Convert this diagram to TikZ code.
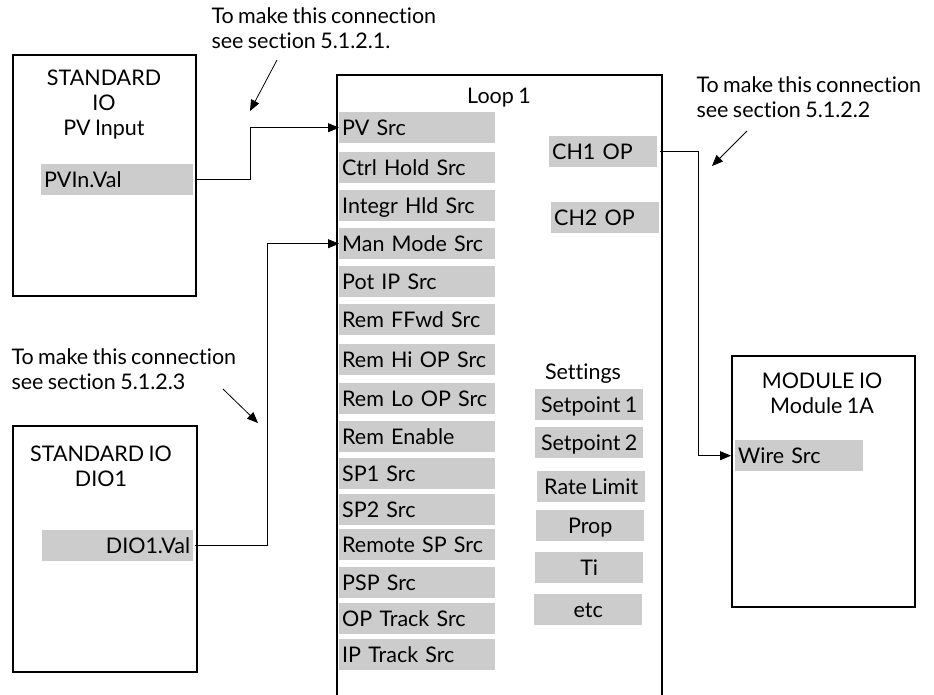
\documentclass[tikz,border=0pt]{standalone}
\usepackage{fontspec}
\setmainfont{Lato}[Ligatures=NoCommon, WordSpace=0.8]
\usetikzlibrary{arrows.meta}

\definecolor{barfill}{HTML}{CCCCCC}

\tikzset{
  blockbox/.style={draw, line width=1.6pt, anchor=north west, inner sep=0pt},
  srcbar/.style={fill=barfill, anchor=north west, inner xsep=3pt, inner ysep=0pt,
    minimum height=31pt, text height=15pt, text depth=0pt, align=left},
  setbar/.style={fill=barfill, anchor=north west, inner sep=0pt,
    minimum width=108pt, minimum height=31pt, text height=15pt, text depth=0pt},
  title/.style={align=center, anchor=base},
  note/.style={align=left, anchor=base west},
  wire/.style={line width=0.8pt},
}

\begin{document}
\begin{tikzpicture}[x=1pt, y=-1pt, >={Triangle[length=11pt,width=9pt]},
  font=\fontsize{21.5}{25}\selectfont]
\useasboundingbox (0,0) rectangle (934,695);

% standard IO, PV input
\node[blockbox, minimum width=183pt, minimum height=241pt] (pvbox) at (12,54) {};
\node[title] (pvtitle) at (104,136) {STANDARD\\IO\\PV Input};
\node[srcbar, text width=146pt] (pvin) at (41,164) {PVIn.Val};

% standard IO, DIO1
\node[blockbox, minimum width=184pt, minimum height=246pt] (diobox) at (12,425) {};
\node[title] (diotitle) at (101,486) {STANDARD IO\\DIO1};
\node[srcbar, text width=145pt, align=right] (dio) at (42,530) {DIO1.Val};

% loop block (runs off the bottom)
\draw[line width=1.6pt] (337,695) |- (662,75) -- (662,695);
\node[title] (looptitle) at (499,104) {Loop 1};

\foreach \y/\t [count=\i] in {112/PV Src, 152/Ctrl Hold Src, 190/Integr Hld Src,
    228/Man Mode Src, 266/Pot IP Src, 304/Rem FFwd Src, 344/Rem Hi OP Src,
    383/Rem Lo OP Src, 421/Rem Enable, 458/SP1 Src, 494/SP2 Src,
    529/Remote SP Src, 567/PSP Src, 603/OP Track Src, 639/IP Track Src} {
  \node[srcbar, text width=150pt] (src-\i) at (339,\y) {\t};
}

\node[srcbar, text width=102pt] (ch1) at (549,136) {CH1 OP};
\node[srcbar, text width=102pt] (ch2) at (551,202) {CH2 OP};

\node[title] (settings) at (583,379) {Settings};
\foreach \x/\y/\t [count=\i] in {535/389/Setpoint 1, 535/427/Setpoint 2,
    537/471/Rate Limit, 536/510/Prop, 535/552/Ti, 534/594/etc} {
  \node[setbar] (set-\i) at (\x,\y) {\t};
}

% module IO
\node[blockbox, minimum width=183pt, minimum height=251pt] (modbox) at (731,355) {};
\node[title] (modtitle) at (822,413) {MODULE IO\\Module 1A};
\node[srcbar, text width=122pt] (wire) at (735,440) {Wire Src};

% connections
\draw[wire, ->] ([xshift=4pt]pvin.east) -- ++(53,0) |- (src-1.west);
\draw[wire, ->] ([xshift=2pt]dio.east) -- ++(72,0) |- (src-4.west);
\draw[wire, ->] ([xshift=3pt]ch1.east) -- ++(38,0) |- ([xshift=-4pt]wire.west);

% notes
\node[note] (note1) at (208,49) {To make this connection\\see section 5.1.2.1.};
\node[note] (note2) at (693,118) {To make this connection\\see section 5.1.2.2};
\node[note] (note3) at (8,389) {To make this connection\\see section 5.1.2.3};

\coordinate (n1from) at (277,60);
\coordinate (n1to) at (250,111);
\coordinate (n2from) at (747,131);
\coordinate (n2to) at (712,166);
\coordinate (n3from) at (223,389);
\coordinate (n3to) at (258,423);
\draw[wire, ->] (n1from) -- (n1to);
\draw[wire, ->] (n2from) -- (n2to);
\draw[wire, ->] (n3from) -- (n3to);
\end{tikzpicture}
\end{document}
